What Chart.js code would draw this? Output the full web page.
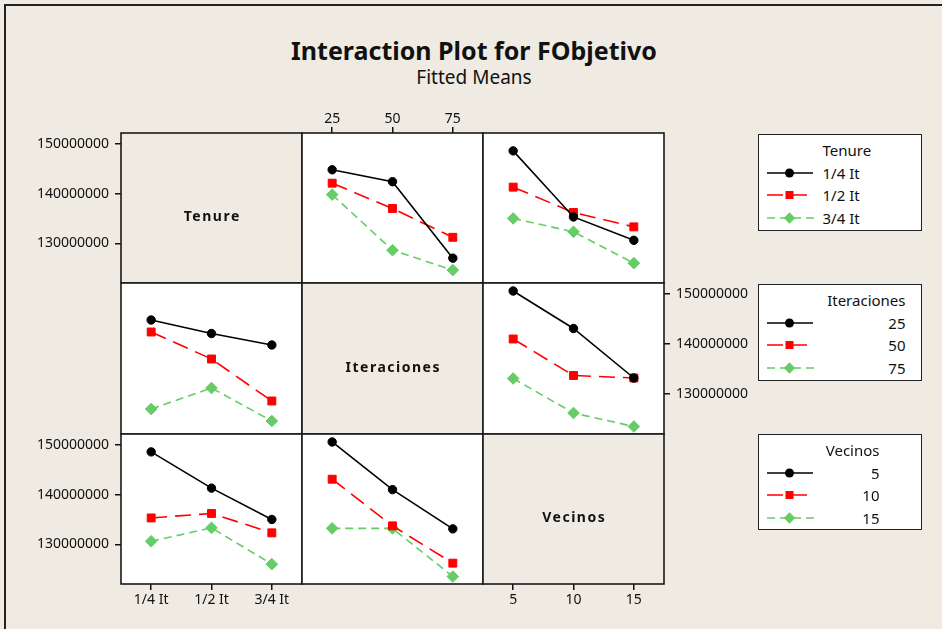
<!DOCTYPE html>
<html>
<head>
<meta charset="utf-8">
<title>Interaction Plot for FObjetivo</title>
<script src="https://cdn.jsdelivr.net/npm/chart.js@4.4.1/dist/chart.umd.min.js"></script>
<style>
  html, body { margin: 0; padding: 0; background: #efebe2; }
  #page { position: relative; width: 942px; height: 629px; overflow: hidden; background: #efebe2; font-family: "Noto Sans", sans-serif; color: #111; }
  #frame { position: absolute; left: 4px; top: 4px; width: 1000px; height: 1000px; border-left: 2px solid #222; border-top: 2px solid #222; }
  .head { position: absolute; left: 0; width: 948px; text-align: center; white-space: nowrap; }
  #title { top: 35px; font-size: 25px; line-height: 30px; font-weight: bold; }
  #subtitle { top: 65px; font-size: 19px; line-height: 24px; }
  canvas { position: absolute; }
  .legend { position: absolute; left: 758px; width: 162px; background: #fff; border: 1.5px solid #222; }
  .legend div { position: absolute; height: 20px; line-height: 20px; font-size: 15px; white-space: nowrap; }
  .legend svg { position: absolute; left: 6.5px; }
</style>
</head>
<body>
<div id="page">
  <div id="frame"></div>
  <div id="title" class="head">Interaction Plot for FObjetivo</div>
  <div id="subtitle" class="head">Fitted Means</div>
</div>
<script>
const tenureLevels = ['1/4 It', '1/2 It', '3/4 It'];
const iterLevels = ['25', '50', '75'];
const vecinosLevels = ['5', '10', '15'];
const yTickValues = [130000000, 140000000, 150000000];
const yMin = 122000000;
const yMax = 152200000;

// fitted means, rows = Tenure level, columns = Iteraciones level
const tenureIter = [
  [144800000, 142400000, 127000000],
  [142100000, 137000000, 131200000],
  [139800000, 128600000, 124600000]
];
// rows = Tenure level, columns = Vecinos level
const tenureVecinos = [
  [148600000, 135300000, 130600000],
  [141300000, 136200000, 133300000],
  [135000000, 132300000, 126000000]
];
// rows = Iteraciones level, columns = Vecinos level
const iterVecinos = [
  [150600000, 143100000, 133200000],
  [141000000, 133700000, 133200000],
  [133100000, 126200000, 123500000]
];

const seriesStyles = [
  { color: '#000000', dash: [], pointStyle: 'circle', radius: 4.2, legendEnd: 47 },
  { color: '#ff0000', dash: [16, 8], pointStyle: 'rect', radius: 5.6, legendEnd: 42 },
  { color: '#66cc66', dash: [8, 5], pointStyle: 'rectRot', radius: 5.8, legendEnd: 48 }
];

Chart.defaults.font.family = '"Noto Sans", sans-serif';
const tickFont = { size: 14 };
const page = document.getElementById('page');

const colX = [121, 302, 483];
const rowY = [133, 283, 434];
const panelW = 181;
const panelH = [150, 151, 150];
const AXIS = 100, XAXIS = 30, EDGE = 3;

const transpose = m => m[0].map((_, j) => m.map(row => row[j]));

// white / beige panel fill, black frame and the factor name on the diagonal
const panelFrame = {
  id: 'panelFrame',
  beforeDraw(chart, args, opts) {
    const a = chart.chartArea, ctx = chart.ctx;
    ctx.save();
    ctx.fillStyle = opts.fill;
    ctx.fillRect(a.left, a.top, a.right - a.left, a.bottom - a.top);
    ctx.restore();
  },
  afterDraw(chart, args, opts) {
    const a = chart.chartArea, ctx = chart.ctx;
    ctx.save();
    ctx.strokeStyle = '#1a1a1a';
    ctx.lineWidth = 1.6;
    ctx.strokeRect(a.left, a.top, a.right - a.left, a.bottom - a.top);
    if (opts.label) {
      ctx.font = 'bold 14px "Noto Sans"';
      ctx.letterSpacing = '1.5px';
      ctx.fillStyle = '#111';
      ctx.textAlign = 'center';
      ctx.textBaseline = 'alphabetic';
      ctx.fillText(opts.label, (a.left + a.right) / 2 + 0.75, (a.top + a.bottom) / 2 + 13);
    }
    ctx.restore();
  }
};

const panels = [
  { r: 0, c: 0, label: 'Tenure', labels: tenureLevels, yPos: 'left' },
  { r: 0, c: 1, labels: iterLevels, series: tenureIter, names: tenureLevels, xPos: 'top' },
  { r: 0, c: 2, labels: vecinosLevels, series: tenureVecinos, names: tenureLevels },
  { r: 1, c: 0, labels: tenureLevels, series: transpose(tenureIter), names: iterLevels },
  { r: 1, c: 1, label: 'Iteraciones', labels: iterLevels },
  { r: 1, c: 2, labels: vecinosLevels, series: iterVecinos, names: iterLevels, yPos: 'right' },
  { r: 2, c: 0, labels: tenureLevels, series: transpose(tenureVecinos), names: vecinosLevels, yPos: 'left', xPos: 'bottom' },
  { r: 2, c: 1, labels: iterLevels, series: transpose(iterVecinos), names: vecinosLevels },
  { r: 2, c: 2, label: 'Vecinos', labels: vecinosLevels, xPos: 'bottom' }
];

function zeroPadding(s) {
  s.paddingLeft = 0; s.paddingRight = 0; s.paddingTop = 0; s.paddingBottom = 0;
}

function makePanel(p) {
  const m = {
    l: p.yPos === 'left' ? AXIS : EDGE,
    r: p.yPos === 'right' ? AXIS : EDGE,
    t: p.xPos === 'top' ? XAXIS : EDGE,
    b: p.xPos === 'bottom' ? XAXIS : EDGE
  };
  const w = panelW + m.l + m.r;
  const h = panelH[p.r] + m.t + m.b;
  const canvas = document.createElement('canvas');
  canvas.width = w;
  canvas.height = h;
  canvas.style.width = w + 'px';
  canvas.style.height = h + 'px';
  canvas.style.left = (colX[p.c] - m.l) + 'px';
  canvas.style.top = (rowY[p.r] - m.t) + 'px';
  page.appendChild(canvas);

  const datasets = (p.series || []).map((values, i) => ({
    label: p.names[i],
    data: values,
    borderColor: seriesStyles[i].color,
    backgroundColor: seriesStyles[i].color,
    borderWidth: 1.6,
    borderDash: seriesStyles[i].dash,
    tension: 0,
    fill: false,
    clip: false,
    pointStyle: seriesStyles[i].pointStyle,
    pointRadius: seriesStyles[i].radius,
    pointBackgroundColor: seriesStyles[i].color,
    pointBorderColor: seriesStyles[i].color,
    pointBorderWidth: 1
  }));

  new Chart(canvas, {
    type: 'line',
    data: { labels: p.labels, datasets: datasets },
    options: {
      responsive: false,
      animation: false,
      events: [],
      layout: {
        autoPadding: false,
        padding: {
          left: p.yPos === 'left' ? 0 : EDGE,
          right: p.yPos === 'right' ? 0 : EDGE,
          top: p.xPos === 'top' ? 0 : EDGE,
          bottom: p.xPos === 'bottom' ? 0 : EDGE
        }
      },
      plugins: {
        legend: { display: false },
        tooltip: { enabled: false },
        panelFrame: { fill: p.label ? '#efebe2' : '#ffffff', label: p.label }
      },
      scales: {
        x: {
          type: 'category',
          offset: true,
          display: !!p.xPos,
          position: p.xPos || 'bottom',
          border: { display: false },
          grid: { display: true, offset: false, drawOnChartArea: false, drawTicks: true, tickLength: 6, color: '#111', lineWidth: 1.5 },
          ticks: { color: '#111', font: tickFont, padding: p.xPos === 'top' ? 0 : 2, maxRotation: 0, autoSkip: false },
          afterFit: s => { if (p.xPos) { s.height = XAXIS; zeroPadding(s); } }
        },
        y: {
          type: 'linear',
          min: yMin,
          max: yMax,
          display: !!p.yPos,
          position: p.yPos || 'left',
          border: { display: false },
          grid: { display: true, drawOnChartArea: false, drawTicks: true, tickLength: 6, color: '#111', lineWidth: 1.5 },
          ticks: { color: '#111', font: tickFont, padding: 6, callback: v => String(v) },
          afterBuildTicks: s => { s.ticks = yTickValues.map(v => ({ value: v })); },
          afterFit: s => { if (p.yPos) { s.width = AXIS; zeroPadding(s); } }
        }
      }
    },
    plugins: [panelFrame]
  });
}

panels.forEach(makePanel);

// legends, one per row factor
const legends = [
  { title: 'Tenure', levels: tenureLevels, top: 134, height: 95, left: 63.5 },
  { title: 'Iteraciones', levels: iterLevels, top: 284, height: 95, right: 15.5 },
  { title: 'Vecinos', levels: vecinosLevels, top: 434, height: 94, right: 41.5 }
];
const rowCenters = [16, 39, 61.5, 84];

function legendSvg(s) {
  let marker;
  if (s.pointStyle === 'circle') marker = `<circle cx="23.5" cy="10" r="4.5" fill="${s.color}"/>`;
  else if (s.pointStyle === 'rect') marker = `<rect x="19.5" y="6" width="8" height="8" fill="${s.color}"/>`;
  else marker = `<polygon points="23.5,4.3 29.2,10 23.5,15.7 17.8,10" fill="${s.color}"/>`;
  const dash = s.dash.length ? `stroke-dasharray="${s.dash.join(' ')}"` : '';
  return `<svg width="50" height="20"><line x1="1" y1="10" x2="${s.legendEnd}" y2="10" stroke="${s.color}" stroke-width="1.6" ${dash}/>${marker}</svg>`;
}

legends.forEach(lg => {
  const box = document.createElement('div');
  box.className = 'legend';
  box.style.top = lg.top + 'px';
  box.style.height = lg.height + 'px';
  const place = (el, row) => {
    el.style.top = (rowCenters[row] - 1.5 - 10) + 'px';
    if (lg.left !== undefined) { el.style.left = lg.left + 'px'; el.style.textAlign = 'left'; }
    else { el.style.right = lg.right + 'px'; el.style.textAlign = 'right'; }
  };
  const t = document.createElement('div');
  t.textContent = lg.title;
  place(t, 0);
  box.appendChild(t);
  lg.levels.forEach((lvl, i) => {
    const holder = document.createElement('span');
    holder.innerHTML = legendSvg(seriesStyles[i]);
    const svg = holder.firstChild;
    svg.style.top = (rowCenters[i + 1] - 1.5 - 10) + 'px';
    box.appendChild(svg);
    const d = document.createElement('div');
    d.textContent = lvl;
    place(d, i + 1);
    box.appendChild(d);
  });
  page.appendChild(box);
});
</script>
</body>
</html>
